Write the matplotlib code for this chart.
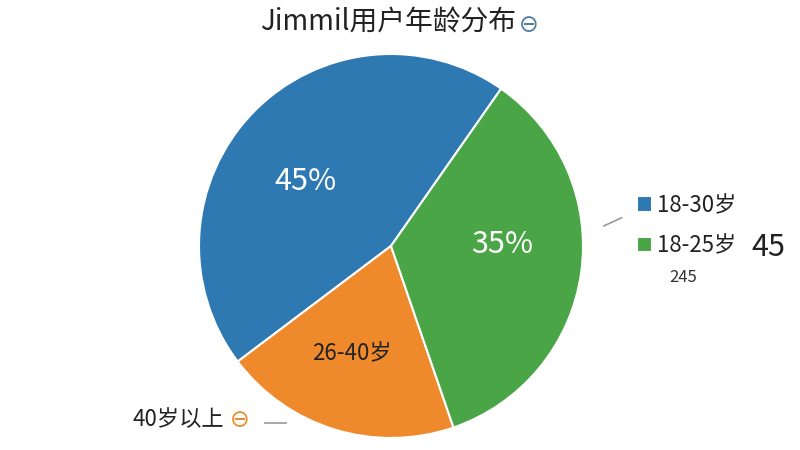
import matplotlib
matplotlib.use("Agg")
import matplotlib.pyplot as plt
import numpy as np

plt.rcParams['font.family'] = ['Noto Sans CJK SC', 'DejaVu Sans']

# data
sizes = [45, 20, 35]
colors = ['#2f79b3', '#ee8a2c', '#4aa547']
inner_labels = ['45%', '26-40岁', '35%']
inner_colors = ['white', '#222222', 'white']
legend_labels = ['18-30岁', '18-25岁']
title = 'Jimmil用户年龄分布'

# where the inner labels sit (radius, angle in degrees)
label_r = [0.56, 0.6, 0.58]
label_ang = [143, 250, 1]
label_fs = [22, 16, 22]

fig = plt.figure(figsize=(8, 4.5), dpi=100)
ax = fig.add_axes([0.24875, 0.0267, 0.48, 0.8533])
wedges, _ = ax.pie(sizes, colors=colors, startangle=55, counterclock=True,
                   radius=1, wedgeprops=dict(edgecolor='white', linewidth=1.5))
ax.set_xlim(-1, 1)
ax.set_ylim(-1, 1)
ax.set_aspect('equal')
ax.axis('off')

for lab, col, r, a, fs in zip(inner_labels, inner_colors, label_r, label_ang, label_fs):
    t = np.deg2rad(a)
    ax.text(r * np.cos(t), r * np.sin(t), lab, ha='center', va='center',
            fontsize=fs, color=col)

# title + the little circled minus
fig.text(0.6455, 0.951, title, ha='right', va='center', fontsize=20, color='#222222')
fig.text(0.661, 0.945, '⊖', ha='center', va='center', fontsize=17,
         color='#4d7ea0', family=['DejaVu Sans'])

# legend on the right
fig.legend([wedges[0], wedges[2]], legend_labels, loc='upper left',
           bbox_to_anchor=(0.782, 0.594), frameon=False, fontsize=16,
           handlelength=0.7, handleheight=0.7, handletextpad=0.2,
           labelspacing=0.78, borderpad=0, labelcolor='#222222')
fig.text(0.96, 0.449, '45', ha='center', va='center', fontsize=22, color='#222222')
fig.text(0.854, 0.384, '245', ha='center', va='center', fontsize=12, color='#333333')
fig.add_artist(plt.Line2D([0.755, 0.777], [0.498, 0.516], color='#999999', lw=1.2))

# bottom-left label
fig.text(0.2225, 0.067, '40岁以上', ha='center', va='center', fontsize=16, color='#222222')
fig.text(0.3, 0.067, '⊖', ha='center', va='center', fontsize=17,
         color='#ee8a2c', family=['DejaVu Sans'])
fig.add_artist(plt.Line2D([0.331, 0.357], [0.06, 0.06], color='#999999', lw=1.2))

fig.savefig('out.png', dpi=100, facecolor='white')
